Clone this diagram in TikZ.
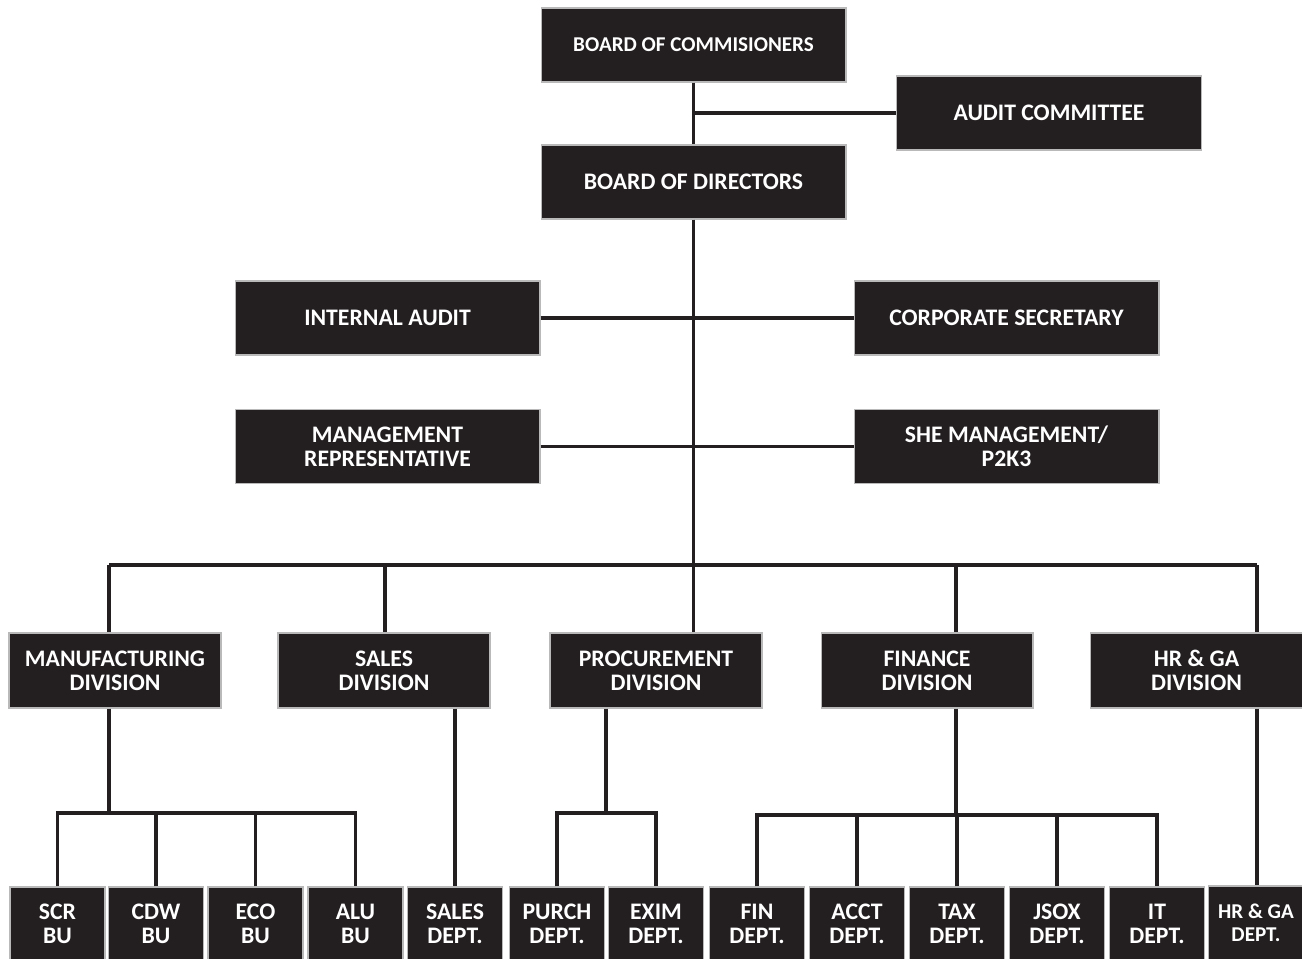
\documentclass[tikz,border=0pt]{standalone}
\usepackage{fontspec}
\setmainfont{Carlito}
\usetikzlibrary{positioning}
\definecolor{boxfill}{RGB}{35,31,32}
\tikzset{
  unit/.style={draw=gray!55, line width=0.6pt, fill=boxfill, text=white,
    font=\bfseries\fontsize{13.5}{13.6}\selectfont, align=center, inner sep=0pt},
  big/.style={unit, minimum width=6.1cm, minimum height=1.48cm},
  div/.style={unit, minimum width=4.24cm, minimum height=1.5cm},
  dept/.style={unit, minimum width=1.9cm, minimum height=1.48cm},
  link/.style={draw=boxfill, line width=2.1pt}
}
\begin{document}
\begin{tikzpicture}[x=0.02cm, y=-0.02cm]
\useasboundingbox (0,0) rectangle (1302,959);
% top level
\node[big, font=\bfseries\fontsize{12}{13.6}\selectfont] (boc) at (693.5,45) {BOARD OF COMMISIONERS};
\node[big] (audit) at (1049,113) {AUDIT COMMITTEE};
\node[big] (bod) at (693.5,182) {BOARD OF DIRECTORS};
\node[big] (ia) at (387.5,318) {INTERNAL AUDIT};
\node[big] (cs) at (1006.5,318) {CORPORATE SECRETARY};
\node[big] (mr) at (387.5,446.5) {MANAGEMENT\\REPRESENTATIVE};
\node[big] (she) at (1006.5,446.5) {SHE MANAGEMENT/\\P2K3};
% divisions
\node[div] (mfg) at (115,670.5) {MANUFACTURING\\DIVISION};
\node[div] (sales) at (384,670.5) {SALES\\DIVISION};
\node[div] (proc) at (656,670.5) {PROCUREMENT\\DIVISION};
\node[div] (fin) at (927,670.5) {FINANCE\\DIVISION};
\node[div] (hrga) at (1196.5,670.5) {HR \& GA\\DIVISION};
% departments
\node[dept] (scr) at (57.5,924) {SCR\\BU};
\node[dept] (cdw) at (156,924) {CDW\\BU};
\node[dept] (eco) at (255.5,924) {ECO\\BU};
\node[dept] (alu) at (355.5,924) {ALU\\BU};
\node[dept] (salesd) at (455,924) {SALES\\DEPT.};
\node[dept] (purch) at (557,924) {PURCH\\DEPT.};
\node[dept] (exim) at (656,924) {EXIM\\DEPT.};
\node[dept] (find) at (757,924) {FIN\\DEPT.};
\node[dept] (acct) at (857,924) {ACCT\\DEPT.};
\node[dept] (tax) at (957,924) {TAX\\DEPT.};
\node[dept] (jsox) at (1057,924) {JSOX\\DEPT.};
\node[dept] (it) at (1157,924) {IT\\DEPT.};
\node[dept, font=\bfseries\fontsize{12}{12.8}\selectfont] (hrd) at (1256,923) {HR \& GA\\DEPT.};
% connectors
\coordinate (hub) at (693.5,565);
\coordinate (b1) at (109,565);
\coordinate (b2) at (385,565);
\coordinate (b4) at (956,565);
\coordinate (b5) at (1257,565);
\draw[link] (boc) -- (bod);
\draw[link] (bod.north |- audit.west) -- (audit.west);
\draw[link] (ia.east) -- (cs.west);
\draw[link] (mr.east) -- (she.west);
\draw[link] (bod.south) -- (hub |- proc.north);
\draw[link] (b1) -- (b5);
\foreach \b/\d in {b1/mfg, b2/sales, b4/fin, b5/hrga}
  \draw[link] (\b) -- (\b |- \d.north);
% manufacturing
\coordinate (mbus) at (109,813);
\draw[link] (mbus |- mfg.south) -- (mbus);
\draw[link] (scr.north) |- (alu.north |- mbus) -- (alu.north);
\foreach \d in {cdw, eco}
  \draw[link] (\d.north) -- (\d.north |- mbus);
% sales
\draw[link] (salesd.north |- sales.south) -- (salesd.north);
% procurement
\coordinate (pbus) at (606,813);
\draw[link] (pbus |- proc.south) -- (pbus);
\draw[link] (purch.north) |- (exim.north |- pbus) -- (exim.north);
% finance
\coordinate (fbus) at (956,815);
\draw[link] (b4 |- fin.south) -- (fbus);
\draw[link] (find.north) |- (it.north |- fbus) -- (it.north);
\foreach \d in {acct, tax, jsox}
  \draw[link] (\d.north) -- (\d.north |- fbus);
% hr
\draw[link] (b5 |- hrga.south) -- (b5 |- hrd.north);
\end{tikzpicture}
\end{document}
